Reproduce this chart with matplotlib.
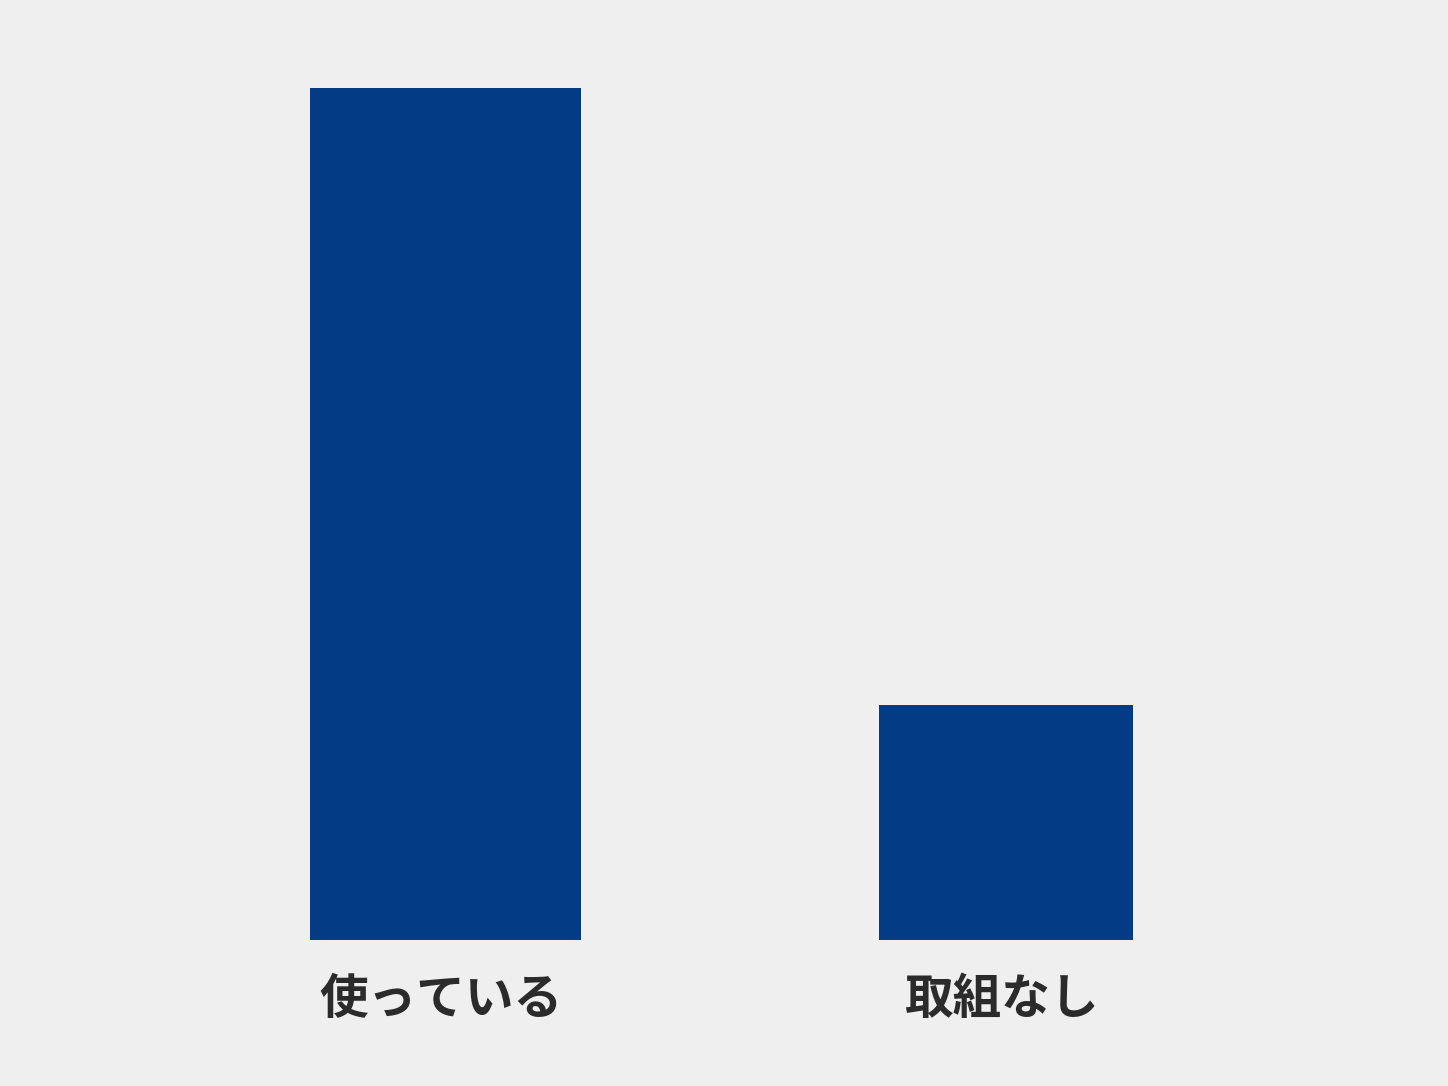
import matplotlib
matplotlib.use("Agg")
import matplotlib.pyplot as plt

plt.rcParams["font.family"] = ["Noto Sans CJK JP", "DejaVu Sans"]

categories = ["使っている", "取組なし"]
values = [100, 27.6]
bar_widths = [0.482, 0.453]

BG = "#efefef"
BAR = "#033c84"
TXT = "#2b2b2b"

fig = plt.figure(figsize=(14.48, 10.86), dpi=100, facecolor=BG)
ax = fig.add_axes([0, 146 / 1086, 1, 940 / 1086])
ax.set_facecolor(BG)

x = list(range(len(categories)))
ax.bar(x, values, width=bar_widths, color=BAR, edgecolor="none")

for xi, lab in zip(x, categories):
    ax.text(xi - 0.008, -7.0, lab, ha="center", va="center", fontsize=35,
            fontweight="bold", color=TXT, clip_on=False)

ax.set_xlim(-0.795, 1.789)
ax.set_ylim(0, 110.33)
ax.axis("off")

fig.savefig("out.png", dpi=100, facecolor=BG)
